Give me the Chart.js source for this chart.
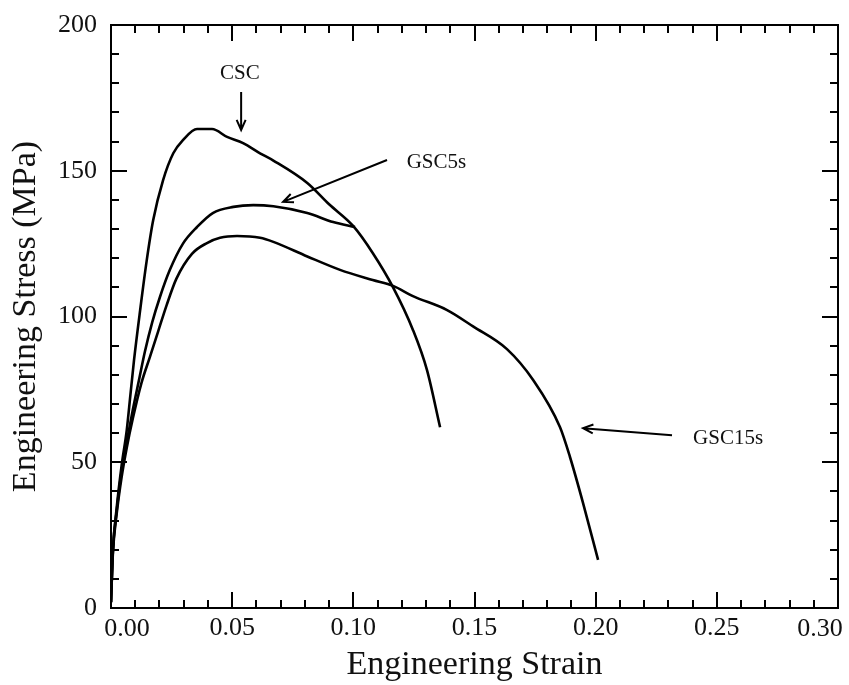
<!DOCTYPE html>
<html>
<head>
<meta charset="utf-8">
<script src="https://cdn.jsdelivr.net/npm/chart.js@4/dist/chart.umd.min.js"></script>
<style>
  body { margin: 0; background: #fff; }
  #wrap { width: 849px; height: 685px; position: relative; }
</style>
</head>
<body>
<div id="wrap"><canvas id="stressStrain"></canvas></div>
<script>
// tensile curves (strain, MPa)
const cscStrain = [0, 0.0008, 0.0023, 0.0044, 0.0065, 0.008, 0.0095, 0.012, 0.0147, 0.0174, 0.0215, 0.0257, 0.0297, 0.0355, 0.0417, 0.0479, 0.0545, 0.0615, 0.067, 0.081, 0.090, 0.100, 0.108, 0.1164, 0.1246, 0.1304, 0.1358];
const cscStress = [2, 20, 34, 49, 61, 73, 85, 102, 119, 133, 146.8, 156, 160.5, 164.3, 164.3, 161.6, 159.5, 156, 153.5, 145.8, 138.5, 131, 121.8, 110, 95.4, 81.6, 62];

const gsc5Strain = [0, 0.0008, 0.0023, 0.0044, 0.0065, 0.009, 0.0115, 0.014, 0.017, 0.0202, 0.0243, 0.0297, 0.0355, 0.042, 0.0505, 0.0587, 0.067, 0.081, 0.0917, 0.1007];
const gsc5Stress = [2, 20, 33, 47, 57, 68, 78, 88, 98, 106.7, 116, 125, 130.7, 135.5, 137.6, 138.2, 137.8, 135.5, 132.4, 130.7];

const gsc15Strain = [0, 0.0008, 0.0023, 0.0044, 0.0065, 0.009, 0.0125, 0.016, 0.0195, 0.023, 0.027, 0.0334, 0.0396, 0.045, 0.052, 0.0615, 0.067, 0.081, 0.0945, 0.108, 0.1164, 0.1246, 0.1387, 0.1494, 0.1634, 0.1742, 0.1853, 0.1894, 0.1948, 0.201];
const gsc15Stress = [2, 19, 32, 45, 55, 65, 77, 86, 95, 104, 113, 121.5, 125.2, 127, 127.6, 127, 125.6, 120.6, 116, 112.5, 110.5, 107, 102.2, 96.6, 88.8, 78.2, 62, 51.8, 36, 16.5];

// callouts: text anchor, arrow tail, arrow tip (data units)
const callouts = [
  { text: 'CSC',    at: [0.0532, 183.5], align: 'center', tail: [0.0537, 177],  tip: [0.0537, 164] },
  { text: 'GSC5s',  at: [0.122, 152.7],  align: 'left',   tail: [0.1139, 153.7], tip: [0.071, 139.3] },
  { text: 'GSC15s', at: [0.2402, 58.3],  align: 'left',   tail: [0.2315, 59.3], tip: [0.1948, 61.7] }
];

const SERIF = '"Liberation Serif", "Times New Roman", serif';

function pts(xs, ys) { return xs.map((x, i) => ({ x: x, y: ys[i] })); }

function curve(label, xs, ys) {
  return {
    label: label,
    data: pts(xs, ys),
    borderColor: '#000',
    borderWidth: 2.6,
    pointRadius: 0,
    cubicInterpolationMode: 'monotone',
    fill: false
  };
}

function arrow(ctx, x1, y1, x2, y2) {
  const a = Math.atan2(y2 - y1, x2 - x1), h = 11, s = 0.42;
  ctx.beginPath();
  ctx.moveTo(x1, y1); ctx.lineTo(x2, y2);
  ctx.moveTo(x2 - h * Math.cos(a - s), y2 - h * Math.sin(a - s));
  ctx.lineTo(x2, y2);
  ctx.lineTo(x2 - h * Math.cos(a + s), y2 - h * Math.sin(a + s));
  ctx.stroke();
}

// box frame, inward ticks on all four sides, callouts
const framePlugin = {
  id: 'frame',
  afterDraw(chart) {
    const ctx = chart.ctx, a = chart.chartArea;
    const xs = chart.scales.x, ys = chart.scales.y;
    ctx.save();
    ctx.strokeStyle = '#000';
    ctx.lineWidth = 2;
    ctx.strokeRect(a.left, a.top, a.right - a.left, a.bottom - a.top);

    ctx.beginPath();
    for (let i = 0; i <= 30; i++) {
      const px = Math.round(xs.getPixelForValue(i / 100));
      const len = i % 5 === 0 ? 16 : 8;
      ctx.moveTo(px, a.bottom); ctx.lineTo(px, a.bottom - len);
      ctx.moveTo(px, a.top); ctx.lineTo(px, a.top + len);
    }
    for (let v = 0; v <= 200; v += 10) {
      const py = Math.round(ys.getPixelForValue(v));
      const len = v % 50 === 0 ? 16 : 8;
      ctx.moveTo(a.left, py); ctx.lineTo(a.left + len, py);
      ctx.moveTo(a.right, py); ctx.lineTo(a.right - len, py);
    }
    ctx.stroke();

    // end strain labels are nudged inside the frame
    ctx.fillStyle = '#111';
    ctx.font = '26px ' + SERIF;
    ctx.textAlign = 'center';
    ctx.textBaseline = 'middle';
    ctx.fillText('0.00', xs.getPixelForValue(0) + 16, a.bottom + 21);
    ctx.fillText('0.30', xs.getPixelForValue(0.3) - 18, a.bottom + 21);

    ctx.font = '21px ' + SERIF;
    ctx.lineWidth = 2;
    callouts.forEach(c => {
      ctx.textAlign = c.align;
      ctx.fillText(c.text, xs.getPixelForValue(c.at[0]), ys.getPixelForValue(c.at[1]));
      arrow(ctx,
        xs.getPixelForValue(c.tail[0]), ys.getPixelForValue(c.tail[1]),
        xs.getPixelForValue(c.tip[0]), ys.getPixelForValue(c.tip[1]));
    });
    ctx.restore();
  }
};

new Chart(document.getElementById('stressStrain'), {
  type: 'line',
  data: {
    datasets: [
      curve('CSC', cscStrain, cscStress),
      curve('GSC5s', gsc5Strain, gsc5Stress),
      curve('GSC15s', gsc15Strain, gsc15Stress)
    ]
  },
  options: {
    responsive: true,
    maintainAspectRatio: false,
    animation: false,
    layout: { padding: { top: 25, right: 11, left: 0, bottom: 0 } },
    plugins: { legend: { display: false }, tooltip: { enabled: false } },
    scales: {
      x: {
        type: 'linear',
        min: 0, max: 0.3,
        grid: { display: false, drawTicks: false, tickLength: 0 },
        border: { display: false },
        afterFit: s => { s.height = 77; s.paddingLeft = 0; s.paddingRight = 0; },
        ticks: {
          stepSize: 0.05,
          padding: 5,
          color: '#111',
          font: { family: SERIF, size: 26 },
          maxRotation: 0,
          callback: v => (Math.abs(v) < 1e-9 || Math.abs(v - 0.3) < 1e-9) ? '' : v.toFixed(2)
        },
        title: {
          display: true,
          text: 'Engineering Strain',
          color: '#111',
          font: { family: SERIF, size: 34, lineHeight: 1.2 },
          padding: { top: 0, bottom: 0 }
        }
      },
      y: {
        min: 0, max: 200,
        grid: { display: false, drawTicks: false, tickLength: 0 },
        border: { display: false },
        afterFit: s => { s.width = 111; s.paddingTop = 0; s.paddingBottom = 0; },
        ticks: {
          stepSize: 50,
          padding: 14,
          color: '#111',
          font: { family: SERIF, size: 26 }
        },
        title: {
          display: true,
          text: 'Engineering Stress (MPa)',
          color: '#111',
          font: { family: SERIF, size: 34, lineHeight: 1.2 },
          padding: { top: 6, bottom: 0 }
        }
      }
    }
  },
  plugins: [framePlugin]
});
</script>
</body>
</html>
